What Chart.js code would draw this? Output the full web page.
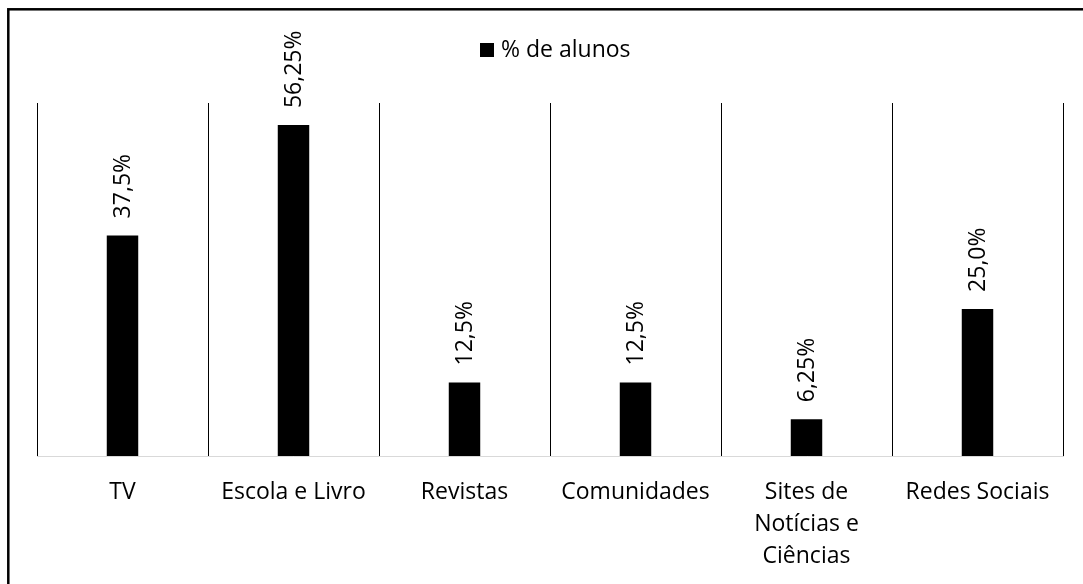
<!DOCTYPE html>
<html>
<head>
<meta charset="utf-8">
<script src="https://cdn.jsdelivr.net/npm/chart.js@4/dist/chart.umd.min.js"></script>
<style>
html,body{margin:0;padding:0;background:#fff;}
canvas{display:block;}
</style>
</head>
<body>
<canvas id="c" width="1083" height="584"></canvas>
<script>
const categories = ["TV", "Escola e Livro", "Revistas", "Comunidades", ["Sites de", "Notícias e", "Ciências"], "Redes Sociais"];
const seriesName = "% de alunos";
const values = [37.5, 56.25, 12.5, 12.5, 6.25, 25.0];
const valueLabels = ["37,5%", "56,25%", "12,5%", "12,5%", "6,25%", "25,0%"];

const FONT = "'Open Sans', sans-serif";
const FS = 23;

const framePlugin = {
  id: 'frame',
  beforeDraw(chart) {
    const ctx = chart.ctx;
    ctx.save();
    ctx.fillStyle = '#fff';
    ctx.fillRect(0, 0, chart.width, chart.height);
    ctx.strokeStyle = '#000';
    ctx.lineWidth = 2.5;
    ctx.strokeRect(8.3, 9.3, 3000, 3000);
    ctx.restore();
  }
};

const legendPlugin = {
  id: 'customLegend',
  afterDraw(chart) {
    const ctx = chart.ctx;
    ctx.save();
    ctx.fillStyle = '#000';
    ctx.fillRect(480, 43, 14, 14);
    ctx.font = FS + 'px ' + FONT;
    ctx.textAlign = 'left';
    ctx.textBaseline = 'middle';
    ctx.fillText(chart.data.datasets[0].label, 501, 50);
    ctx.restore();
  }
};

const labelPlugin = {
  id: 'valueLabels',
  afterDatasetsDraw(chart) {
    const ctx = chart.ctx;
    const meta = chart.getDatasetMeta(0);
    ctx.save();
    ctx.fillStyle = '#000';
    ctx.font = FS + 'px ' + FONT;
    ctx.textAlign = 'left';
    ctx.textBaseline = 'middle';
    meta.data.forEach((bar, i) => {
      ctx.save();
      ctx.translate(bar.x + 1, bar.y - 17);
      ctx.rotate(-Math.PI / 2);
      ctx.fillText(valueLabels[i], 0, 0);
      ctx.restore();
    });
    ctx.restore();
  }
};

new Chart(document.getElementById('c'), {
  type: 'bar',
  data: {
    labels: categories,
    datasets: [{
      label: seriesName,
      data: values,
      backgroundColor: '#000',
      borderWidth: 0,
      categoryPercentage: 1,
      barPercentage: 0.184
    }]
  },
  options: {
    responsive: false,
    devicePixelRatio: 1,
    animation: false,
    layout: { padding: { left: 37, right: 20, top: 103, bottom: 0 } },
    plugins: { legend: { display: false }, tooltip: { enabled: false } },
    scales: {
      x: {
        grid: { offset: true, color: '#000', lineWidth: 1, drawTicks: false },
        border: { display: true, color: '#d9d9d9', width: 1 },
        ticks: { color: '#000', font: { family: FONT, size: FS, lineHeight: 1.38 }, padding: 21, maxRotation: 0, autoSkip: false },
        afterFit(scale) { scale.height = 128; }
      },
      y: {
        display: false,
        min: 0,
        max: 60
      }
    }
  },
  plugins: [framePlugin, legendPlugin, labelPlugin]
});
</script>
</body>
</html>
